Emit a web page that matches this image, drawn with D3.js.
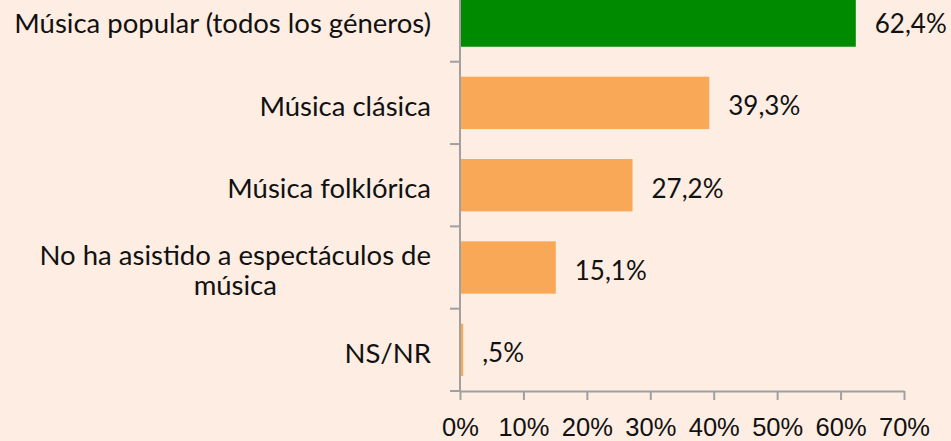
<!DOCTYPE html>
<html>
    <head>
        <meta charset="utf-8">
        <style>
            body {
                margin: 0;
                background: #fdede2;
            }
            svg {
                display: block;
                font-family: Lato, 'Noto Sans', sans-serif;
            }
            .x .tick text {
                font-size: 25.5px;
                fill: #111;
            }
            .x .tick line, .x .domain, .axis-line {
                stroke: #a0a0a0;
                stroke-width: 2;
            }
            .cat-label {
                font-size: 27.5px;
                fill: #111;
            }
            .value-label {
                font-size: 26px;
                fill: #111;
            }
        </style>
    </head>
    <body>
        <svg width="951" height="441"></svg>

        <script src="https://d3js.org/d3.v7.min.js"></script>
        <script>
            let categories = [
                "Música popular (todos los géneros)",
                "Música clásica",
                "Música folklórica",
                "No ha asistido a espectáculos de música",
                "NS/NR"
            ]

            let values = [62.4, 39.3, 27.2, 15.1, 0.5]

            let xTicks = [0, 10, 20, 30, 40, 50, 60, 70]

            let barColors = ["#008a00", "#f9a857", "#f9a857", "#f9a857", "#f9a857"]

            let svg = d3.select("svg")

            let x = d3.scaleLinear()
                .domain([0, 70])
                .range([460, 904])

            let y = d3.scaleBand()
                .domain(categories)
                .range([-20.6, 391])
                .paddingInner(0.364)
                .paddingOuter(0.182)

            let fmt = v => {
                let s = v.toFixed(1).replace(".", ",")
                if (s.startsWith("0,")) s = s.slice(1)
                return s + "%"
            }

            // bars
            svg.append("g")
                .selectAll("rect")
                .data(categories)
                .join("rect")
                .attr("x", x(0))
                .attr("y", d => y(d))
                .attr("height", y.bandwidth())
                .attr("width", (d, i) => x(values[i]) - x(0))
                .attr("fill", (d, i) => barColors[i])

            // x axis
            let xAxis = d3.axisBottom(x)
                .tickValues(xTicks)
                .tickFormat(d => d + "%")
                .tickSize(9)
                .tickSizeOuter(0)
                .tickPadding(18)

            svg.append("g")
                .attr("class", "x axis")
                .attr("transform", `translate(0, ${y.range()[1]})`)
                .call(xAxis)

            // y axis line and ticks between bands
            let step = y.step()
            let gap = step - y.bandwidth()
            svg.append("line")
                .attr("class", "axis-line")
                .attr("x1", x(0)).attr("x2", x(0))
                .attr("y1", y.range()[0]).attr("y2", y.range()[1])

            svg.append("g")
                .selectAll("line")
                .data(categories)
                .join("line")
                .attr("class", "axis-line")
                .attr("x1", x(0) - 10).attr("x2", x(0))
                .attr("y1", d => y(d) + y.bandwidth() + gap / 2)
                .attr("y2", d => y(d) + y.bandwidth() + gap / 2)

            // value labels
            svg.append("g")
                .selectAll("text")
                .data(categories)
                .join("text")
                .attr("class", "value-label")
                .attr("x", (d, i) => x(values[i]) + 19)
                .attr("y", d => y(d) + y.bandwidth() / 2 + 3)
                .attr("dy", "0.36em")
                .text((d, i) => fmt(values[i]))

            // category labels, wrapped and centred inside a right-aligned block
            let labelRight = 431
            let maxWidth = 440
            let lineGap = 30

            categories.forEach(cat => {
                let g = svg.append("g")
                let cy = y(cat) + y.bandwidth() / 2 + 3
                let words = cat.split(" ")
                let lines = []
                let current = []
                let probe = g.append("text").attr("class", "cat-label")
                words.forEach(w => {
                    let trial = current.concat([w]).join(" ")
                    probe.text(trial)
                    if (probe.node().getComputedTextLength() > maxWidth && current.length) {
                        lines.push(current.join(" "))
                        current = [w]
                    } else {
                        current.push(w)
                    }
                })
                lines.push(current.join(" "))
                let widths = lines.map(l => { probe.text(l); return probe.node().getComputedTextLength() })
                probe.remove()
                let blockW = d3.max(widths)
                lines.forEach((l, i) => {
                    g.append("text")
                        .attr("class", "cat-label")
                        .attr("text-anchor", "middle")
                        .attr("x", labelRight - blockW / 2)
                        .attr("y", cy + (i - (lines.length - 1) / 2) * lineGap)
                        .attr("dy", "0.36em")
                        .text(l)
                })
            })
        </script>
    </body>
</html>
